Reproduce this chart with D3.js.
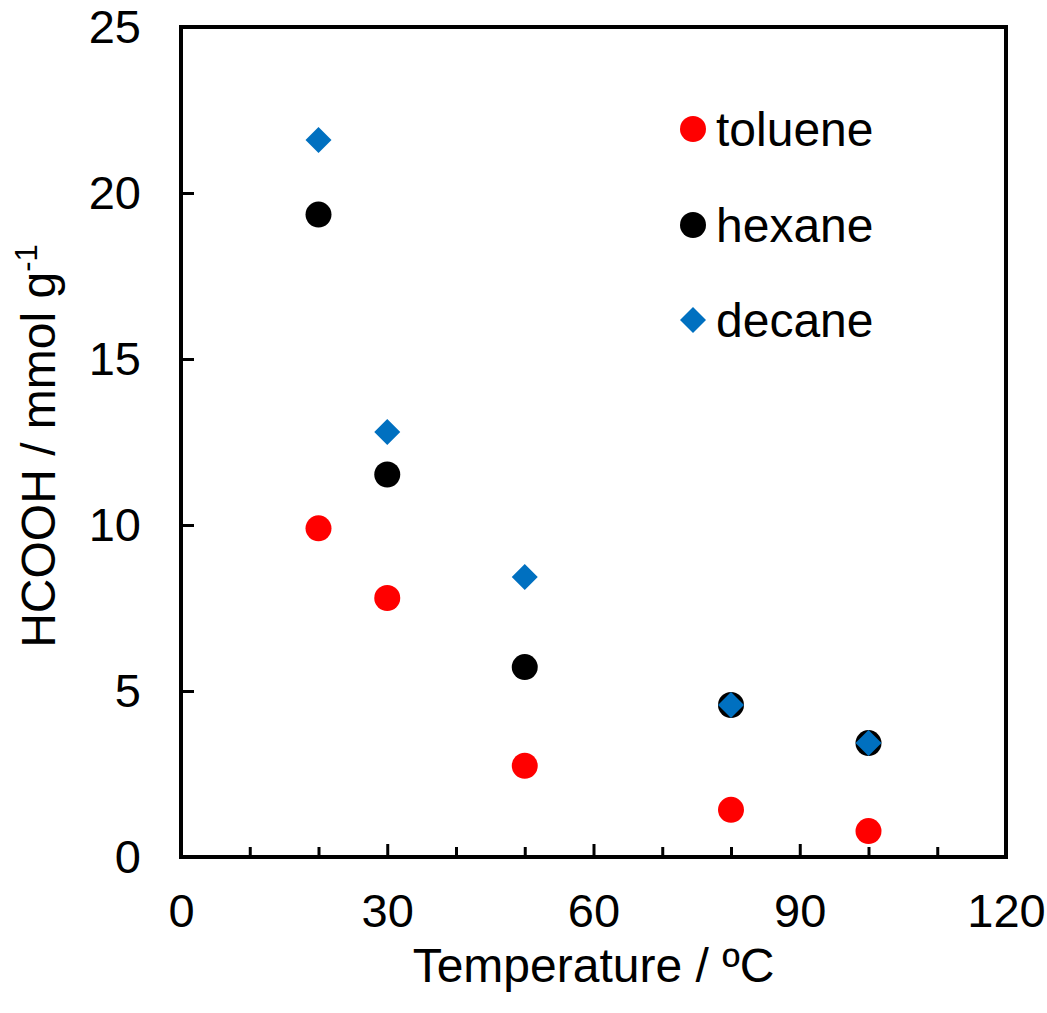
<!DOCTYPE html>
<html>
<head>
<meta charset="utf-8">
<script src="https://cdn.jsdelivr.net/npm/d3@7"></script>
<style>
  body { margin: 0; background: #fff; }
  text { font-family: "Liberation Sans", Arial, sans-serif; fill: #000; }
</style>
</head>
<body>
<svg id="chart" width="1047" height="1013"></svg>
<script>
// ---- data ----
const temperatures = [20, 30, 50, 80, 100];
const toluene = [9.9, 7.8, 2.75, 1.42, 0.78];
const hexane  = [19.35, 11.52, 5.72, 4.58, 3.43];
const decane  = [21.6, 12.8, 8.43, 4.58, 3.43];
const seriesNames = ["toluene", "hexane", "decane"];
const xMajorTicks = [0, 30, 60, 90, 120];
const xMinorTicks = [10, 20, 40, 50, 70, 80, 100, 110];
const yTicks = [0, 5, 10, 15, 20, 25];

// ---- layout ----
const svg = d3.select("#chart");
const L = 181, R = 1006, T = 27, B = 857;
const tickFont = 47, titleFont = 48;

const x = d3.scaleLinear().domain([0, 120]).range([L, R]);
const y = d3.scaleLinear().domain([0, 25]).range([B, T]);

// x axis major (labels)
const gx = svg.append("g").attr("transform", `translate(0,${B})`)
  .call(d3.axisBottom(x).tickValues(xMajorTicks).tickFormat(d3.format("d"))
        .tickSizeInner(-13).tickSizeOuter(0).tickPadding(37));
gx.select(".domain").remove();
gx.selectAll(".tick line").attr("stroke", "#000").attr("stroke-width", 3);
gx.selectAll(".tick text").style("font-size", tickFont + "px").attr("fill", "#000")
  .style("font-family", '"Liberation Sans", Arial, sans-serif');

// x axis minor ticks
const gxm = svg.append("g").attr("transform", `translate(0,${B})`)
  .call(d3.axisBottom(x).tickValues(xMinorTicks).tickFormat("")
        .tickSizeInner(-10).tickSizeOuter(0));
gxm.select(".domain").remove();
gxm.selectAll(".tick line").attr("stroke", "#000").attr("stroke-width", 3);

// y axis
const gy = svg.append("g").attr("transform", `translate(${L},0)`)
  .call(d3.axisLeft(y).tickValues(yTicks).tickFormat(d3.format("d"))
        .tickSizeInner(-13).tickSizeOuter(0).tickPadding(40));
gy.select(".domain").remove();
gy.selectAll(".tick line").attr("stroke", "#000").attr("stroke-width", 3);
gy.selectAll(".tick text").style("font-size", tickFont + "px").attr("fill", "#000")
  .style("font-family", '"Liberation Sans", Arial, sans-serif');

// frame
svg.append("rect").attr("x", L).attr("y", T).attr("width", R - L).attr("height", B - T)
  .attr("fill", "none").attr("stroke", "#000").attr("stroke-width", 4);

// axis titles
svg.append("text").attr("x", (L + R) / 2).attr("y", 982).attr("text-anchor", "middle")
  .style("font-size", titleFont + "px").text("Temperature / ºC");

const yt = svg.append("text").attr("transform", `translate(55,${(T + B) / 2 + 4}) rotate(-90)`)
  .attr("text-anchor", "middle").style("font-size", titleFont + "px");
yt.append("tspan").text("HCOOH / mmol g");
yt.append("tspan").attr("dy", -18).style("font-size", "31px").text("-1");

// ---- marks ----
const colors = { toluene: "#FF0000", hexane: "#000000", decane: "#0070C0" };
const diamond = d3.symbol().type(d3.symbolSquare).size(338);

function drawCircles(vals, color) {
  svg.append("g").selectAll("circle").data(temperatures.map((t, i) => [t, vals[i]]))
    .join("circle").attr("cx", d => x(d[0])).attr("cy", d => y(d[1]))
    .attr("r", 13).attr("fill", color);
}
function drawDiamonds(vals, color) {
  svg.append("g").selectAll("path").data(temperatures.map((t, i) => [t, vals[i]]))
    .join("path").attr("d", diamond)
    .attr("transform", d => `translate(${x(d[0])},${y(d[1])}) rotate(45)`)
    .attr("fill", color);
}
drawCircles(toluene, colors.toluene);
drawCircles(hexane, colors.hexane);
drawDiamonds(decane, colors.decane);

// ---- legend ----
const legendY = [129, 225, 320];
const lg = svg.append("g");
seriesNames.forEach((name, i) => {
  if (name === "decane") {
    lg.append("path").attr("d", diamond)
      .attr("transform", `translate(693,${legendY[i]}) rotate(45)`).attr("fill", colors[name]);
  } else {
    lg.append("circle").attr("cx", 693).attr("cy", legendY[i]).attr("r", 13).attr("fill", colors[name]);
  }
  lg.append("text").attr("x", 716).attr("y", legendY[i] + 17)
    .style("font-size", titleFont + "px").text(name);
});
</script>
</body>
</html>
